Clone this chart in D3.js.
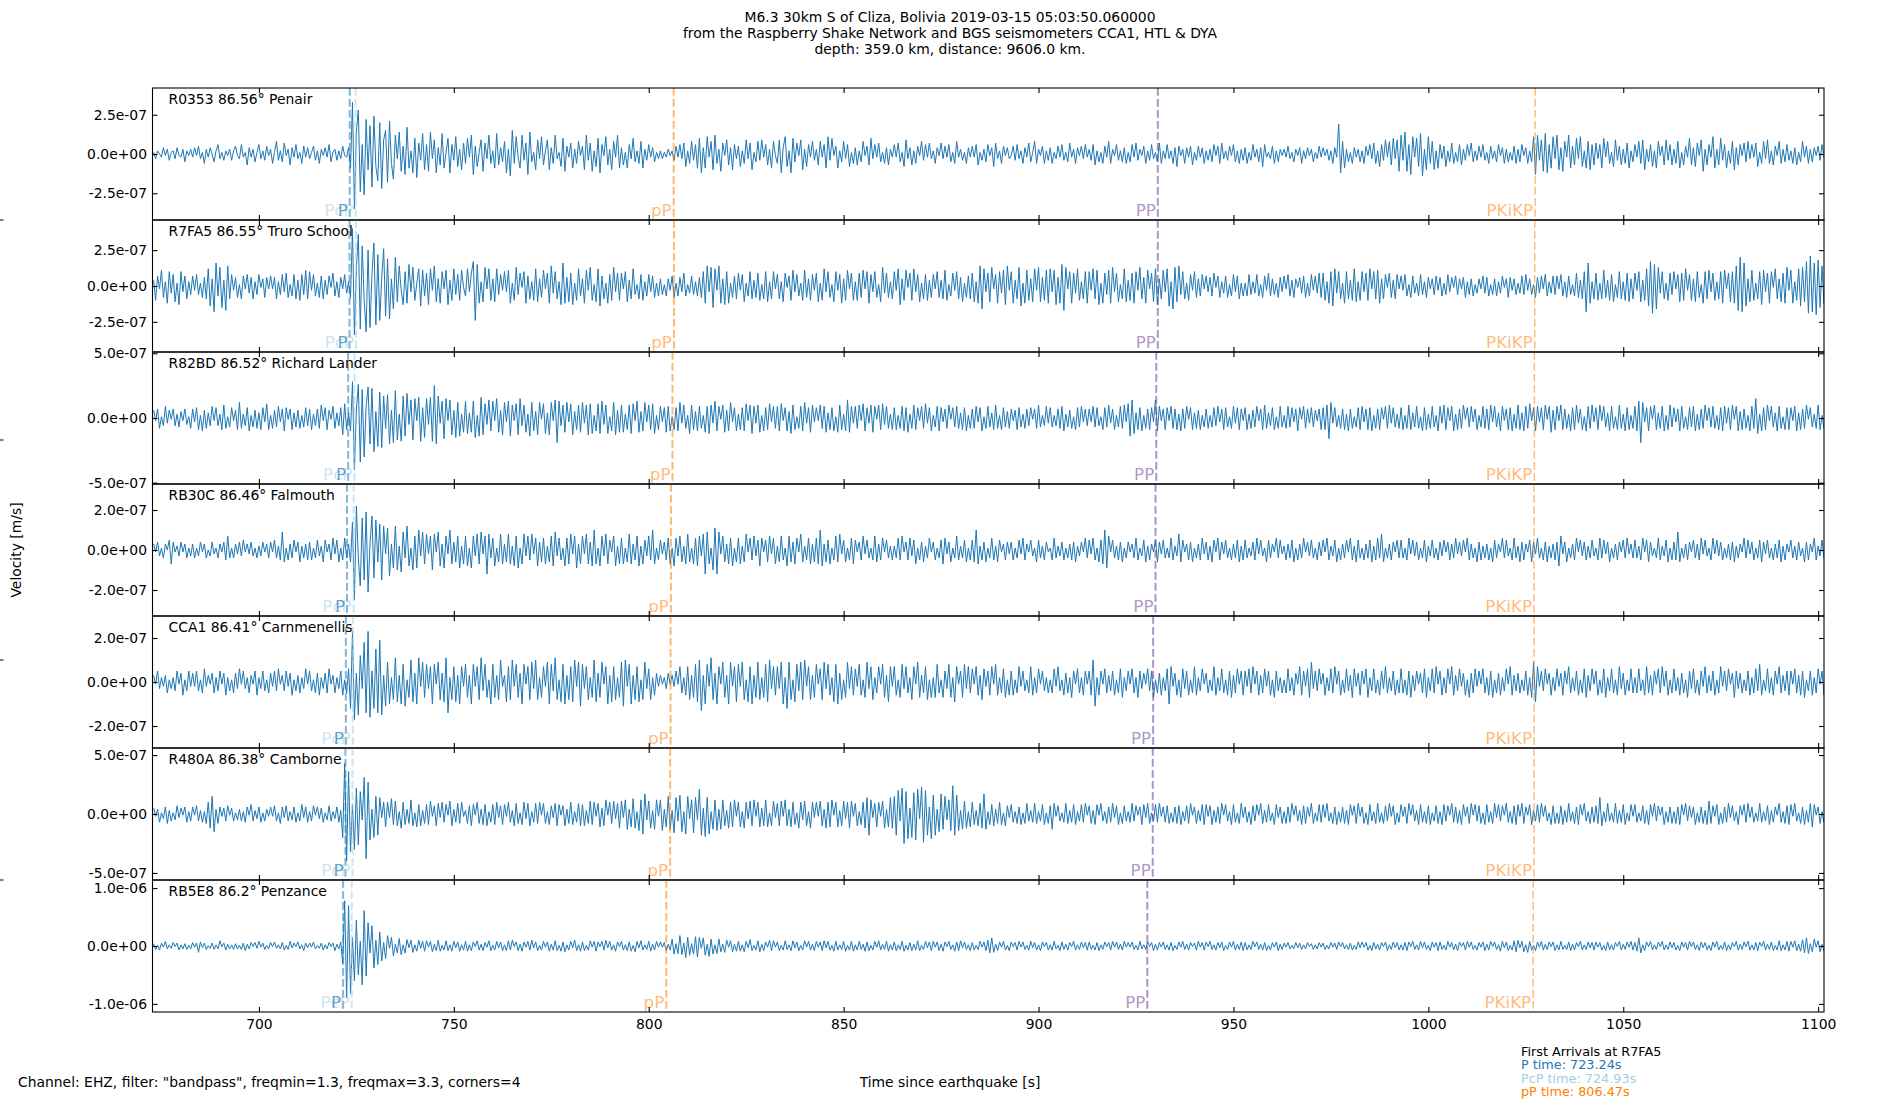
<!DOCTYPE html>
<html>
<head>
<meta charset="utf-8">
<script src="https://cdn.jsdelivr.net/npm/d3@7"></script>
<style>
  body { margin: 0; background: #fff; }
  text { font-family: "DejaVu Sans", sans-serif; }
</style>
</head>
<body>
<svg id="chart"></svg>
<script>
// station labels, top to bottom
const stations = [
  "R0353 86.56° Penair",
  "R7FA5 86.55° Truro School",
  "R82BD 86.52° Richard Lander",
  "RB30C 86.46° Falmouth",
  "CCA1 86.41° Carnmenellis",
  "R480A 86.38° Camborne",
  "RB5E8 86.2° Penzance"
];
// half range of each panel's y axis [m/s]
const yLimits = [4.2e-7, 4.6e-7, 5.1e-7, 3.3e-7, 3.0e-7, 5.6e-7, 1.14e-6];
const yTicks = [
  [2.5e-7, 0, -2.5e-7], [2.5e-7, 0, -2.5e-7], [5e-7, 0, -5e-7],
  [2e-7, 0, -2e-7], [2e-7, 0, -2e-7], [5e-7, 0, -5e-7], [1e-6, 0, -1e-6]
];
const xTicks = [700, 750, 800, 850, 900, 950, 1000, 1050, 1100];
const xDomain = [672.7, 1101.5];

const phaseNames = ["P", "PcP", "pP", "PP", "PKiKP"];
const phaseColors = ["#1f78b4", "#a6cee3", "#ff7f00", "#6a3d9a", "#ff7f00"];
const phaseWidths = [2, 2, 2, 2, 1.4];
// arrival times [s] per station
const phaseTimes = [
  [723.3, 724.8, 806.4, 930.6, 1027.4],
  [723.24, 724.93, 806.47, 930.6, 1027.3],
  [722.9, 724.5, 806.1, 930.2, 1027.2],
  [722.6, 724.3, 805.7, 930.0, 1027.1],
  [722.3, 724.1, 805.6, 929.4, 1027.1],
  [722.2, 724.0, 805.5, 929.3, 1027.1],
  [721.6, 723.8, 804.5, 927.9, 1026.9]
];

const arrivalsTitle = "First Arrivals at R7FA5";
const arrivals = [
  ["P time: 723.24s", "#1f78b4"],
  ["PcP time: 724.93s", "#a6cee3"],
  ["pP time: 806.47s", "#ff7f00"]
];

const titleLines = [
  "M6.3 30km S of Cliza, Bolivia 2019-03-15 05:03:50.060000",
  "from the Raspberry Shake Network and BGS seismometers CCA1, HTL & DYA",
  "depth: 359.0 km, distance: 9606.0 km."
];

// waveforms: samples every 0.5 s from 673 s, values in 1e-8 m/s
const t0 = 673, dt = 0.5, unit = 1e-8;

const r0353 = [
1,-3,2,0,-2,4,-1,3,-4,1,2,-3,4,-1,-2,3,-5,2,-1,3,
-2,4,-1,5,-3,1,-6,3,-2,4,0,-5,2,6,-3,1,-4,2,-1,3,
-4,2,5,-1,-3,6,-2,1,-7,4,-2,3,-5,1,6,-3,2,-4,5,-1,
3,-6,1,8,-4,2,-5,7,-1,3,-7,4,-2,6,-3,1,-6,5,-2,4,
-3,1,5,-4,2,-6,3,-1,4,-2,6,-5,1,3,-4,2,-3,5,-1,-2,
4,-9,33,-35,14,28,-24,6,-26,22,-10,18,-21,24,-8,-17,20,-22,9,15,
-18,21,-6,-16,12,-3,14,-11,5,-13,17,-9,2,-12,10,-15,7,-4,13,-10,
6,-11,14,-3,9,-12,4,-7,13,-9,1,10,-12,6,-4,11,-8,3,-10,7,
-6,10,-2,12,-13,5,-8,1,9,-11,7,-3,12,-6,2,-9,13,-7,4,-5,
8,-12,3,-14,15,-6,11,-2,-9,12,-4,7,-13,14,-5,1,-10,9,-3,11,
-7,2,9,-10,4,-6,12,-3,1,-8,10,-11,5,-2,7,-9,3,-6,8,-1,
5,-10,12,-4,7,-11,2,-8,10,-12,6,-1,11,-7,3,-10,8,-2,12,-9,
4,-7,1,-9,6,-3,10,-5,2,-6,8,-9,3,-4,6,-2,4,-5,1,-3,
2,-3,1,-2,3,-1,2,-4,5,-2,6,-3,7,-8,2,-6,8,-4,6,-9,
10,-12,4,-9,11,-2,8,-10,12,-6,3,-11,7,-1,9,-7,4,-10,6,-3,
5,-8,2,-6,9,-3,7,-10,1,-5,8,-4,9,-2,6,-7,3,-9,8,-1,
-6,9,-12,4,11,-8,2,-12,10,-5,7,-1,9,-10,3,-8,6,-2,8,-4,
3,-7,8,-2,6,-9,11,-4,10,-1,5,-9,2,-5,8,-3,6,-8,1,-6,
4,-7,2,-5,8,-1,5,-7,10,-3,6,-2,7,-5,1,-6,4,-7,3,-2,
6,-2,7,-5,1,-8,9,-3,4,-7,2,-6,5,-1,8,-4,6,-2,7,-3,
2,-6,4,-1,7,-3,5,-2,6,-5,1,-6,8,-2,3,-4,1,-6,4,-2,
5,-2,6,-7,1,-4,3,-5,6,-1,4,-8,7,-3,2,-6,5,-1,4,-3,
-1,5,-4,6,-3,2,-6,4,-2,7,-5,1,8,-6,3,-1,5,-6,2,-4,
4,-6,1,-3,5,-2,6,-4,1,-5,7,-2,3,-6,4,-1,5,-3,6,-2,
3,-4,6,-7,2,-5,1,-6,5,-2,8,-6,3,-1,6,-4,2,-5,4,-6,
1,-5,6,-2,7,-4,3,-1,5,-6,2,-4,6,-3,1,-5,7,-6,2,-3,
6,-3,2,-6,4,-8,5,-1,3,-6,4,-2,5,-7,1,-4,5,-2,4,-6,
2,-4,3,-5,6,-1,5,-6,7,-3,2,-4,5,-1,6,-5,2,-6,3,-4,
4,-6,1,-4,6,-2,3,-5,4,-8,6,-2,1,-3,5,-6,2,-5,3,-1,
3,-2,5,-3,1,-5,3,-1,4,-6,2,-3,4,-1,3,-5,1,-3,5,-2,
4,-1,3,-4,2,-6,4,-2,19,-12,8,-9,3,-5,1,-6,4,-2,3,-5,
2,-6,5,-1,6,-3,7,-6,2,-8,6,-4,9,-2,8,-7,10,-3,9,-11,
12,-4,14,-11,6,-13,11,-2,10,-8,13,-14,3,-10,11,-6,8,-10,2,-9,
6,-3,5,-8,2,-5,7,-6,1,-5,6,-7,3,-4,6,-1,7,-5,2,-4,
5,-2,6,-4,1,-6,5,-3,2,-5,6,-1,4,-6,3,-5,1,-4,5,-6,
3,-5,6,-1,4,-6,2,-5,11,-13,12,-4,9,-11,13,-12,6,-9,11,-3,
12,-10,4,-11,8,-2,12,-9,5,-7,10,-3,11,-8,2,-9,8,-10,6,-7,
7,-3,6,-9,10,-2,8,-6,1,-8,9,-4,5,-7,3,-6,7,-9,2,-5,
6,-2,8,-6,9,-10,3,-5,6,-8,2,-9,8,-1,5,-7,9,-4,6,-7,
3,-6,8,-9,1,-7,5,-2,10,-7,4,-8,7,-1,9,-11,3,-7,6,-2,
11,-9,3,-7,10,-4,6,-9,2,-6,8,-10,4,-7,6,-1,7,-5,8,-3,
6,-2,7,-8,1,-6,8,-3,9,-6,2,-7,5,-1,8,-6,3,-5,6,-4,
2,-6,4,-7,1,-5,8,-2,5,-6,3,-5,4,-1,5,-4,6,-2,4,-3
];

const r7fa5 = [
4,-10,7,-2,11,-8,3,-12,10,-5,8,-11,2,-13,10,-4,7,-9,3,-6,
7,-3,8,-6,2,-8,6,-9,12,-14,5,-18,16,-7,13,-15,4,-17,14,-9,
8,-3,6,-8,1,-9,7,-2,8,-5,6,-9,3,-6,8,-1,5,-8,6,-2,
7,-2,6,-9,3,-6,8,-4,9,-8,1,-7,8,-9,4,-10,8,-6,11,-9,
10,-3,8,-7,2,-8,7,-9,4,-6,7,-1,9,-7,3,-8,6,-2,8,-5,
3,-8,40,-34,12,36,-30,28,-10,-32,25,-29,8,30,-27,22,-24,6,26,-21,
19,-23,5,-16,20,-11,14,-3,-13,10,-12,15,-4,13,-10,2,12,-14,11,-7,
9,-13,12,-3,14,-11,5,-12,10,-2,11,-13,4,-10,12,-6,8,-10,11,-1,
-7,12,-4,9,17,-24,15,-12,3,-11,13,-2,12,-10,5,-11,12,-6,8,-3,
10,-4,11,-12,2,-10,13,-6,9,-1,10,-12,7,-9,3,-10,12,-11,5,-8,
11,-2,9,-12,14,-5,10,-9,3,-13,16,-12,6,-11,9,-13,2,-10,12,-7,
5,-12,11,-3,13,-10,1,-11,12,-14,7,-9,2,-12,8,-10,13,-4,9,-10,
9,-2,10,-11,4,-9,12,-6,1,-9,8,-10,3,-7,8,-4,7,-8,2,-7,
5,-6,1,-7,5,-3,7,-8,2,-7,6,-4,9,-7,1,-5,7,-6,3,-7,
6,-8,10,-12,14,-4,13,-15,12,-3,14,-12,5,-13,10,-12,2,-8,7,-9,
9,-3,8,-11,2,-7,10,-9,4,-8,9,-10,1,-9,10,-11,3,-9,10,-2,
8,-9,3,-11,9,-1,7,-10,11,-4,8,-7,2,-10,11,-8,5,-10,8,-3,
9,-11,2,-10,12,-4,10,-8,1,-11,10,-3,8,-12,5,-10,11,-2,9,-10,
3,-10,9,-8,11,-2,10,-12,8,-4,10,-8,1,-11,13,-5,9,-8,3,-9,
10,-3,12,-13,5,-10,11,-1,9,-10,12,-4,8,-11,2,-9,8,-10,4,-8,
8,-2,10,-8,4,-9,11,-10,1,-7,9,-3,10,-9,6,-11,2,-8,7,-9,
9,-11,3,-12,14,-16,12,-4,9,-11,13,-2,8,-12,10,-5,11,-13,14,-3,
10,-12,4,-9,13,-14,2,-12,11,-10,5,-11,12,-3,13,-11,6,-10,11,-12,
12,-4,11,-13,6,-12,15,-17,13,-2,10,-12,9,-5,12,-10,3,-9,10,-12,
10,-3,12,-9,11,-13,2,-12,9,-6,11,-12,13,-4,9,-11,1,-9,12,-11,
4,-10,9,-12,10,-3,13,-9,6,-12,11,-2,9,-11,12,-13,5,-9,11,-4,
12,-14,3,-16,13,-11,14,-6,10,-9,2,-10,8,-3,10,-8,5,-7,8,-2,
7,-4,6,-7,9,-1,7,-8,3,-5,7,-8,1,-7,8,-4,7,-9,2,-7,
2,-7,8,-6,3,-5,8,-7,1,-8,7,-3,9,-7,5,-6,2,-8,6,-4,
7,-2,8,-7,4,-8,5,-1,6,-5,7,-8,2,-7,8,-3,7,-5,9,-8,
9,-10,3,-12,10,-14,12,-5,10,-9,2,-12,10,-9,4,-10,12,-11,3,-10,
10,-4,9,-10,12,-2,10,-9,11,-12,5,-9,8,-1,9,-8,4,-9,8,-2,
7,-3,8,-7,1,-8,7,-5,2,-7,8,-6,3,-8,6,-2,5,-6,7,-3,
6,-7,2,-6,8,-4,6,-1,7,-6,5,-2,6,-8,3,-6,5,-7,1,-5,
5,-2,7,-5,6,-7,1,-6,5,-7,3,-5,7,-1,5,-8,6,-3,5,-6,
2,-5,7,-6,8,-3,5,-6,1,-8,6,-5,7,-2,8,-7,3,-5,7,-6,
7,-2,8,-7,3,-8,7,-6,1,-7,9,-8,4,-9,10,-18,16,-12,3,-9,
9,-10,2,-9,11,-8,4,-10,8,-11,1,-8,10,-9,3,-10,9,-11,5,-9,
9,-3,10,-11,4,-10,12,-14,17,-19,15,-16,13,-5,10,-9,2,-10,9,-6,
10,-2,8,-11,9,-10,12,-3,8,-10,5,-11,10,-8,1,-12,10,-9,11,-4,
9,-10,3,-9,10,-12,11,-2,9,-11,10,-12,14,-17,20,-18,16,-14,5,-11,
11,-10,2,-9,10,-13,11,-4,9,-12,10,-1,12,-9,5,-11,9,-12,13,-3,
11,-12,3,-10,12,-14,13,-11,17,-19,21,-18,16,-20,18,-15,14,-12,4,-11
];

const r82bd = [
6,-2,7,-8,1,-6,9,-4,6,-1,7,-6,3,-7,5,-2,7,-5,1,-8,
7,-3,8,-9,2,-10,6,-8,4,-6,9,-2,8,-6,3,-9,10,-8,1,-7,
8,-2,6,-9,12,-8,3,-6,8,-10,2,-7,6,-8,4,-9,8,-3,11,-9,
2,-8,6,-7,9,-3,7,-10,8,-1,7,-9,4,-7,6,-8,2,-7,8,-6,
7,-9,3,-6,7,-8,10,-2,8,-9,6,-1,9,-8,4,-6,8,-13,11,-9,
4,-10,28,-40,6,26,-34,22,-30,9,24,-20,23,-26,5,-22,20,-23,17,-8,
18,-20,6,-19,21,-17,3,-18,17,-14,19,-5,14,-17,15,-2,16,-18,8,-15,
15,-5,16,-18,25,-20,17,-4,13,-16,15,-2,14,-13,6,-15,12,-14,3,-11,
13,-12,4,-11,13,-15,2,-14,16,-13,11,-5,14,-10,13,-2,15,-11,6,-13,
12,-3,13,-14,10,-2,11,-13,15,-6,10,-11,3,-14,12,-10,5,-13,12,-1,
11,-12,4,-13,12,-2,14,-19,13,-6,10,-11,12,-3,11,-13,5,-9,10,-11,
12,-4,10,-13,11,-12,2,-10,11,-12,13,-5,10,-12,1,-10,12,-13,6,-11,
10,-11,3,-9,10,-12,11,-2,13,-11,5,-10,12,-3,10,-9,11,-12,2,-9,
9,-3,8,-11,9,-10,1,-9,8,-10,12,-4,10,-8,2,-12,10,-9,5,-10,
9,-8,2,-11,9,-12,10,-4,13,-10,9,-1,10,-11,6,-10,12,-3,8,-10,
3,-9,8,-10,11,-2,10,-12,9,-4,10,-11,2,-10,8,-9,11,-3,9,-8,
9,-10,11,-2,8,-10,5,-12,10,-9,1,-8,9,-10,12,-4,8,-11,10,-3,
8,-2,10,-8,9,-11,4,-9,8,-10,1,-11,10,-9,3,-10,14,-11,9,-4,
9,-8,10,-2,11,-10,8,-4,10,-11,9,-1,10,-9,11,-5,9,-8,3,-9,
8,-9,2,-8,9,-10,8,-11,3,-8,10,-9,8,-2,9,-8,11,-4,8,-10,
2,-7,9,-10,8,-3,7,-8,10,-1,8,-7,9,-8,4,-9,8,-10,2,-8,
7,-8,9,-3,8,-10,1,-8,9,-7,4,-9,10,-8,2,-9,8,-7,5,-8,
7,-2,6,-9,8,-7,3,-8,7,-6,8,-1,7,-8,10,-7,2,-6,9,-4,
8,-7,2,-6,7,-8,9,-10,3,-7,6,-8,1,-9,8,-7,9,-3,7,-6,
7,-3,9,-7,8,-6,1,-9,8,-7,10,-4,7,-9,2,-7,9,-8,10,-3,
11,-14,14,-12,4,-9,8,-10,2,-8,7,-9,8,-3,14,-10,9,-2,7,-9,
8,-2,9,-8,7,-9,3,-10,7,-8,9,-1,8,-9,4,-8,6,-9,2,-7,
7,-8,2,-7,8,-6,9,-3,7,-9,8,-7,1,-8,9,-4,8,-9,7,-2,
8,-9,3,-8,6,-7,9,-2,7,-9,10,-8,4,-6,8,-9,1,-8,9,-7,
2,-8,9,-7,8,-3,7,-10,8,-1,9,-8,7,-4,8,-7,6,-2,7,-9,
8,-9,10,-16,12,-4,8,-7,2,-8,7,-9,3,-10,7,-8,1,-7,8,-9,
9,-3,7,-9,8,-10,2,-8,7,-9,8,-1,9,-8,10,-4,8,-7,3,-8,
8,-9,2,-8,10,-9,4,-7,9,-8,1,-10,8,-9,3,-8,9,-7,2,-10,
9,-4,10,-9,8,-2,9,-10,3,-9,7,-8,10,-1,8,-7,9,-3,7,-9,
2,-7,9,-8,7,-9,10,-3,9,-7,4,-10,9,-2,7,-9,8,-10,3,-8,
10,-9,4,-10,9,-8,11,-2,8,-10,9,-3,8,-9,10,-1,9,-11,6,-9,
9,-2,10,-9,7,-8,3,-10,8,-9,10,-4,7,-9,1,-10,9,-8,10,-3,
8,-9,10,-2,9,-7,4,-10,9,-8,1,-9,10,-8,3,-10,8,-9,2,-8,
9,-10,13,-19,12,-3,8,-10,9,-1,10,-9,4,-8,9,-10,2,-9,10,-7,
8,-3,7,-10,9,-8,1,-9,8,-7,9,-10,3,-9,7,-8,10,-2,8,-7,
9,-8,2,-9,8,-10,9,-4,8,-9,10,-1,9,-10,5,-9,7,-8,2,-10,
9,-8,15,-12,3,-10,8,-9,10,-2,9,-7,4,-10,9,-8,1,-9,8,-9,
8,-2,9,-10,4,-9,7,-8,10,-1,8,-7,3,-8,10,-9,2,-8,9,-7
];

const rb30c = [
3,-1,4,-3,1,-4,3,0,5,-7,4,-1,2,-3,4,-1,3,-4,1,-3,
3,-4,1,-3,4,-1,3,-4,0,-3,4,-2,1,-4,3,-1,4,-5,7,-4,
1,-4,3,-2,4,-3,5,-1,3,-2,4,-3,1,-4,2,-3,4,-1,3,-4,
4,-1,5,-4,2,-5,9,-6,1,-5,3,-4,5,-1,4,-6,2,-4,3,-5,
4,-5,1,-4,5,-3,2,-6,5,-1,3,-5,6,-2,5,-6,1,-5,6,-4,
3,-6,14,-25,22,-4,-18,16,-15,19,-21,3,17,-14,15,-6,13,-15,12,-2,
11,-13,3,-9,12,-10,2,-11,9,-4,12,-8,1,-10,7,-9,10,-3,9,-7,
8,-2,7,-10,8,-1,9,-8,3,-9,7,-2,10,-7,4,-6,7,-9,2,-7,
7,-8,1,-9,7,-3,8,-7,9,-2,7,-12,8,-4,6,-8,1,-6,8,-7,
3,-6,8,-7,2,-8,7,-9,1,-7,8,-3,7,-5,8,-2,6,-8,4,-6,
6,-7,2,-6,7,-8,9,-3,6,-5,1,-8,6,-7,8,-2,7,-9,3,-7,
7,-2,8,-7,4,-8,10,-7,1,-8,7,-3,8,-7,5,-1,7,-8,2,-7,
6,-7,1,-6,8,-7,3,-5,7,-8,2,-7,5,-3,7,-5,10,-7,1,-5,
5,-2,4,-5,6,-7,1,-8,6,-3,7,-6,2,-7,8,-6,1,-7,6,-8,
7,-3,8,-12,9,-7,1,-10,11,-12,9,-2,7,-6,3,-7,6,-8,1,-6,
6,-7,2,-6,8,-1,6,-5,7,-3,5,-8,6,-1,5,-6,7,-2,6,-7,
2,-6,7,-5,1,-8,7,-6,4,-7,6,-1,8,-6,2,-5,6,-7,3,-6,
6,-7,10,-8,3,-6,5,-7,1,-5,7,-6,8,-2,5,-6,1,-5,6,-7,
5,-1,4,-5,7,-2,5,-4,1,-5,7,-6,3,-5,6,-1,5,-4,2,-5,
2,-4,6,-5,7,-1,4,-5,6,-3,5,-7,1,-5,4,-6,2,-4,6,-1,
4,-5,1,-4,5,-7,6,-2,4,-6,1,-4,7,-5,2,-4,5,-6,1,-5,
5,-6,10,-7,2,-5,4,-6,1,-4,6,-5,2,-6,5,-1,3,-5,4,-2,
4,-5,1,-4,5,-2,6,-5,3,-1,5,-3,1,-6,5,-4,2,-5,4,-1,
1,-5,6,-4,2,-3,4,-5,1,-4,3,-5,4,-6,2,-3,4,-1,6,-4,
5,-2,6,-5,1,-6,5,-7,10,-9,7,-1,5,-4,2,-5,4,-6,1,-4,
4,-1,3,-4,6,-5,1,-3,5,-6,2,-5,3,-1,5,-6,4,-2,5,-4,
1,-4,6,-5,2,-3,8,-6,5,-1,3,-5,4,-6,1,-4,3,-5,6,-2,
4,-5,2,-6,5,-1,6,-5,4,-2,5,-4,1,-5,3,-4,5,-6,2,-5,
5,-4,1,-3,4,-5,6,-2,5,-3,1,-6,5,-4,3,-1,6,-4,5,-2,
2,-5,3,-4,5,-6,1,-5,3,-4,6,-1,4,-3,5,-4,1,-5,4,-3,
5,-1,6,-5,2,-3,5,-6,1,-5,3,-4,5,-1,6,-5,2,-6,5,-4,
1,-5,3,-4,5,-6,2,-5,6,-4,8,-6,1,-4,3,-5,4,-1,5,-4,
5,-4,1,-5,6,-2,5,-3,4,-5,1,-4,5,-6,2,-3,5,-4,1,-5,
4,-3,5,-1,4,-5,3,-4,6,-2,4,-3,5,-1,6,-5,3,-4,1,-6,
4,-5,2,-4,3,-5,1,-6,5,-4,3,-1,6,-4,5,-3,1,-5,6,-4,
2,-6,4,-5,3,-1,5,-6,4,-2,6,-4,1,-5,4,-6,2,-4,3,-5,
4,-8,7,-2,4,-6,1,-4,3,-5,6,-1,5,-3,4,-5,2,-4,5,-3,
1,-5,6,-4,5,-2,4,-6,1,-4,3,-5,4,-1,5,-4,6,-2,3,-4,
5,-4,2,-5,6,-1,5,-6,4,-3,1,-4,6,-5,2,-3,5,-6,1,-5,
4,-5,9,-6,1,-4,3,-5,4,-1,5,-4,3,-5,6,-2,5,-3,1,-5,
6,-2,5,-3,4,-5,1,-4,3,-5,4,-6,2,-4,3,-1,6,-4,5,-2,
4,-5,1,-4,5,-6,4,-2,5,-4,1,-5,3,-4,5,-6,2,-5,3,-1,
5,-4,2,-5,4,-3,1,-6,4,-5,3,-1,6,-5,2,-3,5,-4,1,-5
];

const cca1 = [
3,-1,5,-3,2,-2,3,-5,1,-3,2,-4,5,-1,4,-6,1,-4,5,-2,
4,-2,5,-4,1,-5,6,-2,3,-1,4,-5,2,-4,5,-1,4,-6,2,-4,
1,-5,4,-3,6,-1,5,-3,2,-5,3,-1,5,-6,2,-3,5,-4,1,-5,
4,-2,5,-4,6,-1,3,-4,5,-2,4,-6,1,-4,3,-5,2,-3,6,-1,
5,-4,1,-5,4,-6,2,-3,4,-5,6,-1,3,-5,2,-3,5,-6,1,-5,
6,-12,23,-17,4,-15,12,-3,18,-14,23,-16,5,-12,15,-14,19,-15,3,-11,
9,-10,2,-8,11,-9,3,-10,8,-11,1,-7,10,-9,4,-10,11,-2,9,-7,
8,-3,7,-10,8,-1,9,-8,4,-9,11,-14,2,-8,7,-9,3,-10,7,-2,
8,-7,3,-10,8,-2,7,-8,11,-4,8,-7,1,-10,8,-7,3,-8,10,-2,
3,-9,7,-8,10,-2,8,-7,4,-10,8,-1,7,-8,9,-3,10,-8,2,-7,
7,-2,9,-10,8,-4,11,-8,1,-9,8,-10,3,-8,7,-9,10,-2,9,-11,
8,-3,7,-8,2,-7,10,-9,4,-7,9,-1,7,-10,3,-9,7,-8,2,-7,
9,-11,10,-2,8,-10,3,-8,7,-9,1,-8,9,-3,6,-8,2,-6,4,-2,
3,-1,2,-3,4,-1,3,-2,5,-1,7,-5,2,-6,7,-8,3,-7,8,-9,
10,-13,3,-10,8,-2,11,-8,4,-10,7,-1,9,-7,3,-10,9,-2,7,-9,
8,-2,9,-8,1,-9,7,-10,3,-7,9,-8,2,-7,8,-9,10,-3,7,-6,
7,-3,9,-10,2,-12,9,-8,1,-9,8,-4,9,-8,10,-2,7,-8,3,-7,
8,-1,6,-8,9,-3,8,-6,2,-9,8,-10,4,-8,1,-7,9,-3,7,-6,
6,-2,8,-6,1,-7,9,-3,7,-8,2,-5,7,-1,8,-7,3,-9,7,-2,
7,-6,1,-7,8,-3,7,-5,2,-8,7,-1,9,-7,3,-5,7,-8,1,-7,
2,-7,8,-5,1,-7,5,-3,8,-7,2,-9,7,-1,5,-7,8,-3,7,-5,
6,-1,7,-6,3,-8,6,-2,5,-6,7,-1,8,-6,2,-5,6,-7,1,-6,
5,-6,1,-5,7,-2,5,-4,1,-5,7,-6,2,-5,6,-1,5,-4,2,-5,
1,-5,6,-2,7,-4,1,-6,4,-5,2,-7,5,-1,6,-5,2,-6,5,-1,
5,-6,10,-11,2,-6,5,-1,6,-5,3,-4,5,-6,1,-5,6,-7,2,-4,
5,-1,6,-5,2,-7,5,-3,4,-1,6,-4,5,-7,1,-5,4,-6,2,-4,
6,-10,7,-2,4,-6,1,-7,6,-3,5,-6,1,-5,7,-6,2,-4,6,-1,
4,-5,1,-4,7,-6,2,-4,6,-5,1,-6,5,-7,3,-5,6,-1,5,-6,
5,-2,6,-5,7,-1,5,-6,3,-5,6,-2,5,-6,1,-7,5,-4,2,-5,
1,-5,6,-4,2,-6,4,-1,7,-6,5,-2,6,-7,9,-3,5,-4,6,-1,
4,-6,2,-4,6,-5,7,-1,5,-6,1,-5,6,-4,3,-7,6,-2,4,-6,
5,-1,6,-7,2,-4,6,-5,1,-6,5,-3,7,-5,2,-4,5,-6,1,-5,
6,-5,1,-6,5,-7,3,-4,5,-1,4,-5,6,-7,2,-4,6,-5,7,-1,
5,-6,2,-5,6,-1,7,-6,3,-4,6,-2,4,-6,1,-7,4,-5,6,-2,
5,-1,6,-5,2,-6,5,-7,1,-5,4,-6,2,-4,6,-1,7,-6,3,-4,
4,-5,1,-4,5,-6,2,-7,9,-9,7,-2,5,-4,6,-1,4,-6,2,-4,
6,-2,4,-6,5,-1,7,-5,2,-4,5,-6,1,-5,6,-7,3,-4,6,-1,
5,-6,1,-5,6,-7,2,-4,6,-5,1,-6,7,-3,4,-6,1,-4,6,-5,
2,-5,6,-4,1,-6,7,-5,3,-6,5,-1,6,-5,7,-2,5,-6,1,-5,
6,-4,2,-6,4,-5,1,-7,5,-3,6,-5,1,-6,5,-2,7,-5,3,-4,
5,-6,1,-5,7,-2,5,-4,6,-1,4,-7,5,-3,4,-5,1,-4,5,-6,
2,-5,6,-4,8,-6,1,-4,6,-5,2,-6,5,-1,7,-5,3,-4,5,-6,
5,-1,6,-5,3,-6,5,-7,1,-4,5,-6,2,-5,6,-1,5,-6,2,-5
];

const r480a = [
5,-2,4,-7,1,-4,6,-8,3,-6,1,-5,7,-3,5,-1,6,-7,2,-6,
6,-1,7,-6,3,-7,2,-8,10,-12,15,-15,4,-8,6,-2,5,-6,7,-1,
5,-6,1,-5,4,-6,2,-7,6,-1,8,-6,3,-4,6,-7,1,-6,4,-2,
6,-2,7,-6,1,-8,6,-3,7,-6,2,-5,6,-7,1,-6,8,-3,6,-7,
2,-6,7,-1,6,-4,5,-7,1,-5,7,-6,2,-4,6,-7,3,-20,43,-40,
36,-32,8,-30,22,-26,19,-5,31,-38,27,-22,4,-20,15,-18,14,-3,10,-11,
10,-3,13,-9,11,-10,2,-12,10,-9,4,-8,12,-10,1,-11,8,-10,3,-8,
8,-9,11,-2,7,-10,9,-3,10,-7,8,-1,11,-10,4,-7,9,-8,10,-2,
3,-8,7,-10,8,-1,10,-8,4,-9,8,-10,2,-7,8,-9,10,-3,7,-9,
8,-2,10,-7,3,-10,9,-8,1,-9,10,-4,9,-10,2,-7,9,-8,10,-1,
9,-8,2,-9,7,-3,9,-10,8,-1,7,-10,4,-8,10,-9,2,-7,9,-10,
8,-10,3,-8,11,-9,10,-2,9,-11,5,-10,12,-1,10,-8,11,-4,9,-12,
11,-3,12,-13,4,-11,13,-12,2,-14,12,-17,17,-5,11,-12,3,-13,12,-2,
12,-14,4,-11,15,-13,3,-16,14,-6,16,-15,2,-17,15,-4,12,-16,14,-5,
21,-18,5,-19,14,-17,2,-13,12,-14,4,-13,12,-10,3,-12,10,-11,12,-2,
10,-11,2,-12,10,-4,11,-10,12,-2,10,-11,5,-10,12,-11,1,-10,11,-3,
9,-10,11,-2,12,-10,4,-11,10,-9,1,-12,10,-5,11,-10,2,-12,10,-3,
10,-2,11,-10,4,-12,10,-11,12,-1,10,-11,3,-10,11,-4,10,-12,11,-2,
9,-10,2,-9,10,-12,14,-18,12,-3,9,-11,10,-2,11,-12,4,-11,14,-12,
15,-18,20,-6,22,-25,19,-21,5,-20,18,-22,21,-4,23,-24,20,-18,6,-21,
16,-18,4,-15,17,-13,15,-5,12,-14,24,-18,16,-14,3,-13,11,-12,2,-11,
10,-9,3,-10,9,-12,17,-13,2,-9,8,-10,4,-8,10,-9,1,-10,7,-3,
8,-7,2,-8,6,-9,1,-8,9,-6,3,-7,9,-8,2,-6,8,-9,1,-8,
7,-13,9,-2,7,-6,1,-7,9,-8,3,-7,8,-9,2,-6,8,-7,9,-1,
7,-8,3,-9,8,-1,9,-6,2,-8,6,-7,9,-3,7,-9,1,-8,7,-6,
2,-7,9,-6,7,-1,6,-9,8,-3,9,-8,1,-6,8,-7,9,-2,6,-7,
7,-8,1,-7,6,-8,7,-9,2,-6,7,-8,9,-1,6,-8,3,-6,8,-9,
8,-2,7,-9,3,-7,6,-8,9,-1,8,-6,2,-9,8,-7,1,-8,9,-3,
6,-7,2,-9,7,-6,8,-1,9,-8,3,-7,8,-6,1,-9,8,-3,6,-8,
2,-8,6,-7,9,-1,7,-6,3,-9,7,-8,6,-2,9,-8,1,-6,8,-7,
8,-3,9,-6,1,-8,6,-9,2,-7,6,-8,3,-9,8,-1,7,-8,9,-2,
6,-8,1,-9,8,-6,2,-8,9,-7,1,-8,7,-6,9,-2,7,-9,1,-7,
8,-2,6,-8,9,-1,8,-6,3,-9,8,-7,2,-8,7,-9,1,-6,7,-8,
2,-9,8,-6,7,-1,9,-7,6,-8,3,-9,8,-2,6,-8,9,-1,8,-6,
7,-8,1,-9,8,-7,2,-8,9,-3,8,-6,7,-1,9,-7,2,-8,7,-9,
8,-2,9,-8,6,-1,8,-9,3,-6,8,-7,9,-2,7,-6,1,-9,7,-8,
1,-8,7,-9,3,-7,9,-6,2,-8,6,-9,8,-1,9,-6,2,-8,6,-7,
7,-8,14,-10,2,-7,9,-6,1,-7,9,-8,3,-7,8,-9,1,-6,8,-2,
8,-7,1,-6,7,-8,3,-9,8,-2,9,-6,7,-1,6,-9,2,-7,6,-8,
2,-8,6,-9,8,-1,9,-6,7,-3,6,-9,1,-7,6,-8,3,-9,11,-8,
7,-2,8,-9,1,-8,6,-7,9,-3,7,-6,2,-9,7,-1,8,-7,9,-3,
6,-7,1,-6,9,-7,2,-6,7,-9,3,-7,6,-1,9,-7,2,-8,7,-9,
8,-2,9,-6,1,-8,6,-9,3,-7,9,-11,8,-1,6,-8,2,-7,8,-6
];

const rb5e8 = [
4,-6,1,-7,5,-2,8,-5,2,-4,6,-1,5,-7,2,-5,4,-6,1,-5,
6,-2,5,-11,7,-3,5,-6,1,-4,5,-6,2,-5,9,-1,5,-7,3,-5,
2,-6,4,-5,1,-6,5,-8,3,-5,6,-1,6,-4,8,-2,5,-6,1,-5,
6,-1,7,-4,2,-5,6,-7,1,-6,8,-3,5,-1,7,-5,2,-8,5,-3,
5,-2,7,-5,1,-4,5,-7,2,-5,6,-1,5,-8,3,-5,7,-30,78,-90,
70,-82,15,-60,45,-50,8,-67,61,-52,40,-12,35,-38,10,-32,24,-26,6,-22,
18,-4,15,-17,3,-12,13,-15,2,-12,11,-3,10,-11,2,-9,10,-4,8,-9,
9,-2,8,-10,3,-8,10,-9,1,-7,9,-8,2,-9,8,-3,7,-9,2,-7,
8,-9,2,-8,7,-1,9,-7,3,-8,6,-2,9,-8,1,-7,8,-3,7,-8,
2,-8,9,-7,10,-1,7,-8,3,-9,7,-2,8,-7,10,-3,7,-8,1,-7,
8,-2,7,-9,3,-7,9,-8,1,-9,7,-10,2,-7,8,-3,10,-8,2,-9,
7,-8,1,-7,9,-2,8,-9,7,-1,8,-7,10,-3,8,-7,2,-9,7,-1,
8,-7,2,-8,7,-9,1,-10,8,-3,9,-7,2,-6,8,-9,3,-7,8,-2,
7,-2,6,-8,3,-7,12,-14,4,-13,18,-15,5,-20,15,-16,4,-14,16,-19,
15,-4,14,-16,3,-18,12,-14,2,-13,12,-10,3,-11,10,-2,9,-10,3,-9,
8,-9,2,-10,8,-3,11,-8,1,-7,9,-10,3,-8,7,-2,10,-8,9,-2,
7,-8,1,-7,9,-6,2,-8,9,-3,7,-8,1,-7,9,-2,8,-7,3,-8,
8,-2,7,-8,9,-3,8,-7,1,-9,8,-7,2,-6,8,-9,1,-7,8,-9,
2,-7,8,-6,3,-9,7,-8,1,-7,8,-2,9,-7,3,-6,8,-9,2,-7,
7,-8,2,-6,8,-9,1,-7,6,-8,3,-7,9,-8,1,-6,8,-3,7,-8,
8,-2,7,-8,3,-9,7,-1,8,-6,2,-9,7,-8,9,-3,7,-6,2,-8,
6,-7,1,-6,8,-2,7,-8,10,-12,14,-11,3,-8,7,-2,8,-7,1,-8,
7,-1,6,-7,8,-2,7,-6,1,-7,8,-3,6,-7,2,-8,7,-1,6,-7,
2,-7,8,-5,1,-8,7,-6,3,-7,6,-1,8,-7,2,-6,7,-3,6,-7,
7,-6,1,-7,6,-8,2,-6,7,-1,6,-7,8,-2,7,-6,3,-7,8,-2,
6,-2,7,-6,1,-7,8,-5,2,-6,7,-1,6,-8,3,-7,6,-2,7,-6,
2,-7,6,-8,1,-6,7,-2,8,-6,3,-7,6,-1,5,-7,8,-2,6,-7,
7,-1,8,-6,2,-7,6,-3,7,-8,1,-6,7,-2,8,-7,3,-6,7,-8,
6,-7,2,-6,8,-1,7,-6,3,-7,6,-8,1,-7,6,-2,7,-8,3,-6,
5,-2,6,-5,1,-5,6,-3,5,-6,2,-5,6,-1,4,-6,2,-5,6,-2,
5,-6,1,-5,6,-2,5,-6,7,-1,6,-5,2,-6,5,-7,1,-6,7,-3,
7,-2,6,-7,1,-8,6,-5,3,-7,6,-1,7,-8,2,-6,7,-3,6,-7,
2,-7,6,-8,7,-1,8,-6,2,-7,8,-3,7,-6,1,-8,7,-2,6,-8,
7,-6,1,-7,8,-2,6,-7,3,-8,7,-1,6,-7,8,-2,7,-6,1,-7,
6,-2,7,-8,3,-7,8,-1,7,-6,2,-9,8,-3,7,-8,1,-7,9,-10,
10,-3,8,-10,2,-11,8,-7,1,-8,7,-2,8,-7,3,-6,7,-1,7,-8,
2,-7,8,-6,1,-6,7,-8,3,-7,6,-1,8,-7,2,-6,7,-3,6,-7,
7,-2,6,-7,1,-8,7,-6,2,-7,6,-1,8,-7,3,-6,7,-2,8,-7,
6,-9,14,-12,2,-8,7,-1,8,-7,2,-6,7,-1,8,-7,2,-6,7,-3,
6,-7,1,-8,7,-2,6,-7,8,-1,7,-6,2,-8,7,-3,6,-7,1,-8,
7,-2,8,-7,1,-6,7,-8,2,-7,6,-1,8,-7,3,-6,7,-1,8,-7,
2,-7,6,-8,7,-1,8,-7,3,-6,7,-8,1,-7,9,-8,2,-7,8,-9,
8,-2,9,-8,3,-9,11,-12,14,-13,4,-10,12,-2,9,-10,3,-9,7,-2
];

const traces = [r0353, r7fa5, r82bd, rb30c, cca1, r480a, rb5e8];

// ---- layout ----
const W = 1900, H = 1100;
const plotLeft = 152.5, plotRight = 1824, plotTop = 88, panelH = 132;
const fontSize = 13.9;

const svg = d3.select("#chart").attr("width", W).attr("height", H);
const defs = svg.append("defs");

const x = d3.scaleLinear().domain(xDomain).range([plotLeft, plotRight]);

// 2.5e-07 style labels
function sci(v) {
  const parts = v.toExponential(1).split("e");
  const e = +parts[1];
  return parts[0] + "e" + (e < 0 ? "-" : "+") + String(Math.abs(e)).padStart(2, "0");
}

function styleAxis(g) {
  g.select(".domain").remove();
  g.selectAll(".tick line").attr("stroke", "#000").attr("stroke-width", 1.1);
  g.selectAll(".tick text").attr("fill", "#000")
    .style("font-size", fontSize + "px").style("font-family", "DejaVu Sans");
}

traces.forEach((vals, k) => {
  const y0 = plotTop + k * panelH;
  const y = d3.scaleLinear().domain([-yLimits[k], yLimits[k]]).range([y0 + panelH, y0]);
  const g = svg.append("g");

  defs.append("clipPath").attr("id", "clip" + k)
    .append("rect")
      .attr("x", plotLeft).attr("y", y0)
      .attr("width", plotRight - plotLeft).attr("height", panelH);

  // waveform
  g.append("path")
    .datum(vals)
    .attr("clip-path", "url(#clip" + k + ")")
    .attr("fill", "none")
    .attr("stroke", "#1f77b4")
    .attr("stroke-width", 1)
    .attr("stroke-linejoin", "round")
    .attr("d", d3.line().x((d, i) => x(t0 + i * dt)).y(d => y(d * unit)));

  // phase arrivals
  phaseTimes[k].forEach((t, j) => {
    g.append("line")
      .attr("x1", x(t)).attr("x2", x(t))
      .attr("y1", y0).attr("y2", y0 + panelH)
      .attr("stroke", phaseColors[j])
      .attr("stroke-opacity", 0.55)
      .attr("stroke-width", phaseWidths[j])
      .attr("stroke-dasharray", "7.7,3.3");
  });
  // PcP label first so P sits on top of it
  [1, 0, 2, 3, 4].forEach(j => {
    g.append("text")
      .attr("x", x(phaseTimes[k][j]) - 2)
      .attr("y", y0 + panelH - 4)
      .attr("text-anchor", "end")
      .attr("fill", phaseColors[j])
      .attr("fill-opacity", j === 0 ? 0.7 : 0.55)
      .style("font-size", "16.7px")
      .text(phaseNames[j]);
  });

  // ticks (all pointing inwards)
  g.append("g").attr("transform", `translate(0,${y0})`)
    .call(d3.axisTop(x).tickValues(xTicks).tickSize(-5).tickFormat(""))
    .call(styleAxis);
  g.append("g").attr("transform", `translate(0,${y0 + panelH})`)
    .call(d3.axisBottom(x).tickValues(xTicks).tickSize(-5).tickPadding(7)
      .tickFormat(k === traces.length - 1 ? d3.format("d") : ""))
    .call(styleAxis);
  g.append("g").attr("transform", `translate(${plotLeft},0)`)
    .call(d3.axisLeft(y).tickValues(yTicks[k]).tickSize(-5).tickPadding(5.5).tickFormat(sci))
    .call(styleAxis);
  g.append("g").attr("transform", `translate(${plotRight},0)`)
    .call(d3.axisRight(y).tickValues(yTicks[k]).tickSize(-5).tickFormat(""))
    .call(styleAxis);

  // frame
  g.append("rect")
    .attr("x", plotLeft).attr("y", y0)
    .attr("width", plotRight - plotLeft).attr("height", panelH)
    .attr("fill", "none").attr("stroke", "#000").attr("stroke-width", 1.1);

  g.append("text")
    .attr("x", 168.5).attr("y", y0 + 16)
    .style("font-size", fontSize + "px")
    .text(stations[k]);
});

// title
svg.append("g").selectAll("text")
  .data(titleLines)
  .enter()
  .append("text")
    .attr("x", W / 2)
    .attr("y", (d, i) => 22 + i * 16)
    .attr("text-anchor", "middle")
    .style("font-size", fontSize + "px")
    .text(d => d);

// shared y label and its outer axis ticks
svg.append("text")
  .attr("transform", "translate(21,550) rotate(-90)")
  .attr("text-anchor", "middle")
  .style("font-size", fontSize + "px")
  .text("Velocity [m/s]");
[220, 440, 660, 880].forEach(yy => {
  svg.append("line").attr("x1", 0).attr("x2", 3.5).attr("y1", yy).attr("y2", yy)
    .attr("stroke", "#000").attr("stroke-width", 1);
});

// footer
svg.append("text")
  .attr("x", W / 2).attr("y", 1087)
  .attr("text-anchor", "middle")
  .style("font-size", fontSize + "px")
  .text("Time since earthquake [s]");
svg.append("text")
  .attr("x", 18).attr("y", 1087)
  .style("font-size", fontSize + "px")
  .text('Channel: EHZ, filter: "bandpass", freqmin=1.3, freqmax=3.3, corners=4');

svg.append("text")
  .attr("x", 1521).attr("y", 1055.5)
  .style("font-size", "12.8px")
  .text(arrivalsTitle);
svg.append("g").selectAll("text")
  .data(arrivals)
  .enter()
  .append("text")
    .attr("x", 1521)
    .attr("y", (d, i) => 1069 + i * 13.6)
    .attr("fill", d => d[1])
    .style("font-size", "12.8px")
    .text(d => d[0]);
</script>
</body>
</html>
